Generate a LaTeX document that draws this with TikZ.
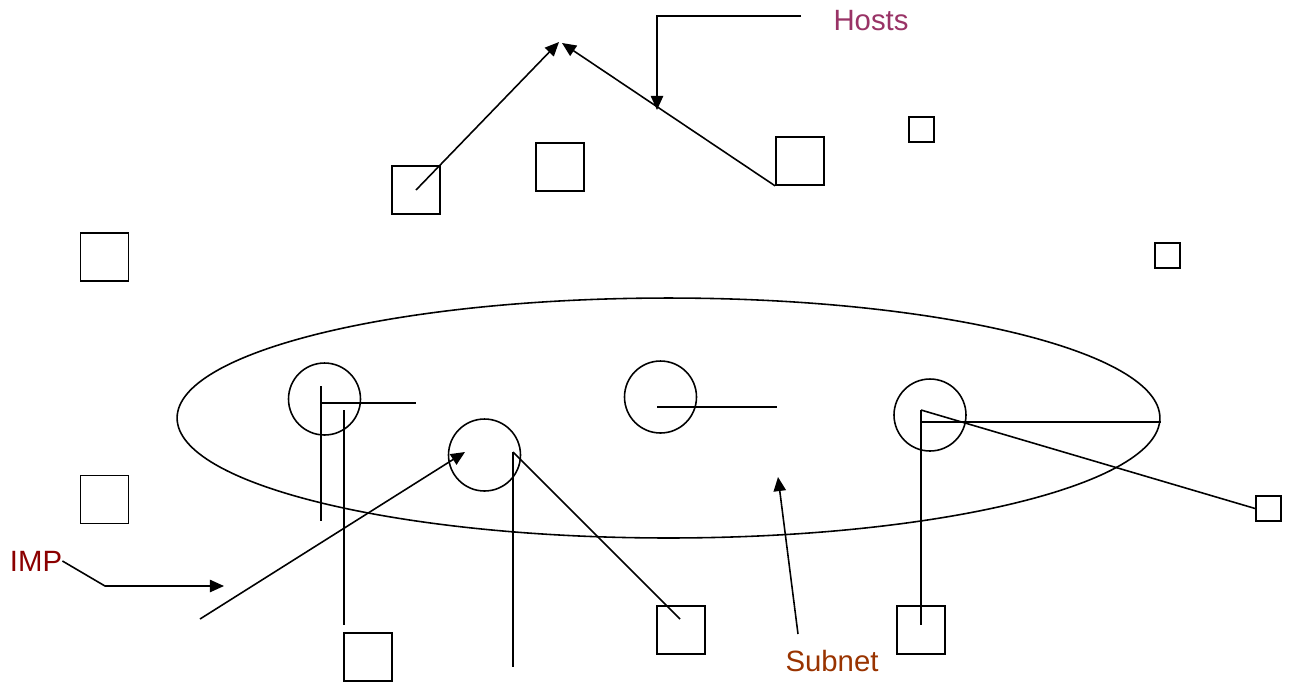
\documentclass[tikz,border=0pt]{standalone}
\usepackage{fontspec}
\setmainfont{Liberation Sans}
\usetikzlibrary{arrows.meta,shapes.geometric}
\definecolor{hostcol}{HTML}{993366}
\definecolor{impcol}{HTML}{8B0000}
\definecolor{netcol}{HTML}{993300}

\begin{document}
\begin{tikzpicture}[x=0.02cm, y=-0.02cm,
  host/.style = {shape=rectangle, draw, line width=1pt, inner sep=0pt,
    minimum size=0.96cm},
  smallhost/.style = {host, minimum size=0.5cm},
  imp/.style = {shape=circle, draw, line width=0.9pt, inner sep=0pt,
    minimum size=1.44cm},
  wire/.style = {line width=0.9pt},
  pointer/.style = {wire, -{Triangle[length=8pt,width=7pt]}},
  tag/.style = {font=\fontsize{16.7}{20}\selectfont, inner sep=0pt}]
  \useasboundingbox (0,0) rectangle (1289,681);
  \node[shape=ellipse, draw, line width=0.9pt, minimum width=19.66cm,
    minimum height=4.8cm] (subnet) at (668.5,418) {};
  \node[host] (h1) at (416,190) {};
  \node[host] (h2) at (560,167) {};
  \node[host] (h3) at (800,161) {};
  \node[smallhost] (h4) at (921.5,129.5) {};
  \node[smallhost] (h5) at (1167.5,255.5) {};
  \node[smallhost] (h6) at (1268.5,508.5) {};
  \node[host] (h7) at (104.5,257) {};
  \node[host] (h8) at (104.5,499.5) {};
  \node[host] (h9) at (368,657) {};
  \node[host] (h10) at (681,630) {};
  \node[host] (h11) at (921,630) {};
  \node[imp] (imp1) at (324.5,399) {};
  \node[imp] (imp2) at (484.5,455) {};
  \node[imp] (imp3) at (660.5,397) {};
  \node[imp] (imp4) at (930,415) {};
  \node[tag, text=hostcol] (hosts) at (871,21) {Hosts};
  \node[tag, text=impcol] (imptag) at (36,561) {IMP};
  \node[tag, text=netcol] (subnettag) at (832,661) {Subnet};
  \coordinate (topA) at (559,42);
  \coordinate (topB) at (562,43);
  \coordinate (hostbend) at (657,16);
  \coordinate (hostend) at (657,110);
  \coordinate (impbend) at (105,586);
  \coordinate (impend) at (224,586);
  \coordinate (linkfoot) at (200,619);
  \coordinate (linktip) at (465,452);
  \coordinate (netfoot) at (798,634);
  \coordinate (nettip) at (778,477);
  \coordinate (a1) at (321,386);
  \coordinate (a2) at (321,521);
  \coordinate (a3) at (321,403);
  \coordinate (a4) at (416,403);
  \coordinate (a5) at (344,410);
  \coordinate (a6) at (344,625);
  \coordinate (b1) at (513,452);
  \coordinate (b2) at (513,667);
  \coordinate (b3) at (680,619);
  \coordinate (c1) at (657,407);
  \coordinate (c2) at (777,407);
  \coordinate (d1) at (921,410);
  \coordinate (d2) at (921,625);
  \coordinate (d3) at (921,422);
  \draw[pointer] (h1.center) -- (topA);
  \draw[pointer] (h3.south west) -- (topB);
  \draw[pointer] (801,16) -- (hostbend) -- (hostend);
  \draw[pointer] (imptag.east) -- (impbend) -- (impend);
  \draw[pointer] (linkfoot) -- (linktip);
  \draw[pointer] (netfoot) -- (nettip);
  \draw[wire] (a1) -- (a2);
  \draw[wire] (a3) -- (a4);
  \draw[wire] (a5) -- (a6);
  \draw[wire] (b1) -- (b2);
  \draw[wire] (b1) -- (b3);
  \draw[wire] (c1) -- (c2);
  \draw[wire] (d1) -- (d2);
  \draw[wire] (d3) -- (d3 -| subnet.east);
  \draw[wire] (d1) -- (h6.west);
\end{tikzpicture}
\end{document}
